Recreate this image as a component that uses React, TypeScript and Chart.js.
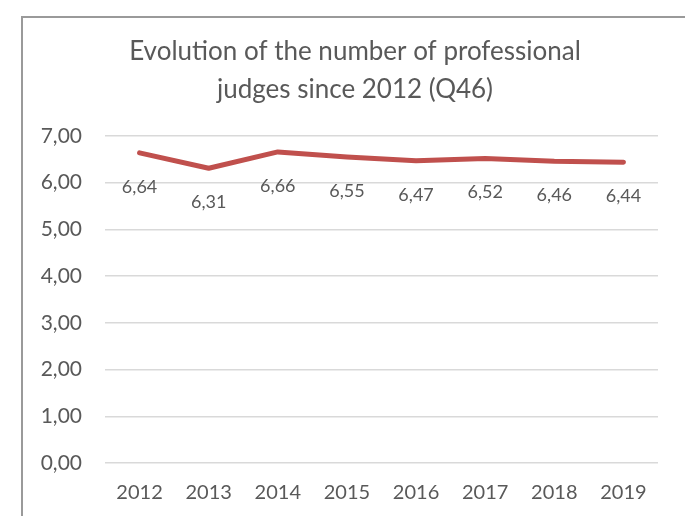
import React, { useEffect, useRef } from "react";
import { Chart, registerables } from "chart.js";

Chart.register(...registerables);

const years = ["2012", "2013", "2014", "2015", "2016", "2017", "2018", "2019"];
const judges = [6.64, 6.31, 6.66, 6.55, 6.47, 6.52, 6.46, 6.44];
const titleLines = ["Evolution of the number of professional", "judges since 2012 (Q46)"];

const TEXT = "#595959";
const FONT = "Lato, 'Open Sans', sans-serif";
const fmt = (v: number) => v.toFixed(2).replace(".", ",");

const labelPlugin = {
  id: "pointLabels",
  afterDatasetsDraw(chart: any) {
    const ctx = chart.ctx;
    const meta = chart.getDatasetMeta(0);
    const ds = chart.data.datasets[0];
    ctx.save();
    ctx.fillStyle = TEXT;
    ctx.font = `18px ${FONT}`;
    ctx.textAlign = "center";
    ctx.textBaseline = "middle";
    meta.data.forEach((pt: any, i: number) => {
      ctx.fillText(fmt(ds.data[i] as number), pt.x, pt.y + 34);
    });
    ctx.restore();
  },
};

const titlePlugin = {
  id: "centeredTitle",
  afterDraw(chart: any) {
    const ctx = chart.ctx;
    ctx.save();
    ctx.fillStyle = TEXT;
    ctx.font = `26px ${FONT}`;
    ctx.textAlign = "center";
    ctx.textBaseline = "middle";
    titleLines.forEach((line, i) => {
      ctx.fillText(line, chart.width / 2, 34 + i * 38);
    });
    ctx.restore();
  },
};

export default function App() {
  const ref = useRef<HTMLCanvasElement | null>(null);
  useEffect(() => {
    if (!ref.current) return;
    const chart = new Chart(ref.current, {
      type: "line",
      data: {
        labels: years,
        datasets: [
          {
            data: judges,
            borderColor: "#C0504D",
            backgroundColor: "#C0504D",
            borderWidth: 5,
            pointRadius: 0,
            borderCapStyle: "round",
            borderJoinStyle: "round",
            tension: 0,
          },
        ],
      },
      options: {
        animation: false,
        responsive: false,
        maintainAspectRatio: false,
        layout: { padding: { left: 0, right: 29, top: 118, bottom: 0 } },
        plugins: {
          legend: { display: false },
          tooltip: { enabled: false },
          title: { display: false },
        },
        scales: {
          x: {
            offset: true,
            grid: { display: false, drawTicks: false },
            border: { display: false },
            ticks: { color: TEXT, font: { family: FONT, size: 20 }, padding: 18 },
            afterFit: (s: any) => {
              s.height = 75;
            },
          },
          y: {
            min: 0,
            max: 7,
            grid: { color: "#d9d9d9", lineWidth: 1.5, drawTicks: false },
            border: { display: false },
            ticks: {
              stepSize: 1,
              color: TEXT,
              font: { family: FONT, size: 21 },
              padding: 23,
              callback: (v: any) => fmt(Number(v)),
            },
            afterFit: (s: any) => {
              s.width = 82;
            },
          },
        },
      },
      plugins: [labelPlugin, titlePlugin],
    });
    return () => chart.destroy();
  }, []);

  return (
    <div
      style={{
        position: "fixed",
        left: 0,
        top: 0,
        width: 685,
        height: 516,
        overflow: "hidden",
        background: "#fff",
      }}
    >
      <div
        style={{
          position: "absolute",
          left: 21,
          top: 16,
          width: 700,
          height: 560,
          border: "2px solid #9a9a9a",
          boxSizing: "border-box",
        }}
      >
        <canvas ref={ref} width={664} height={520} style={{ display: "block" }} />
      </div>
    </div>
  );
}
